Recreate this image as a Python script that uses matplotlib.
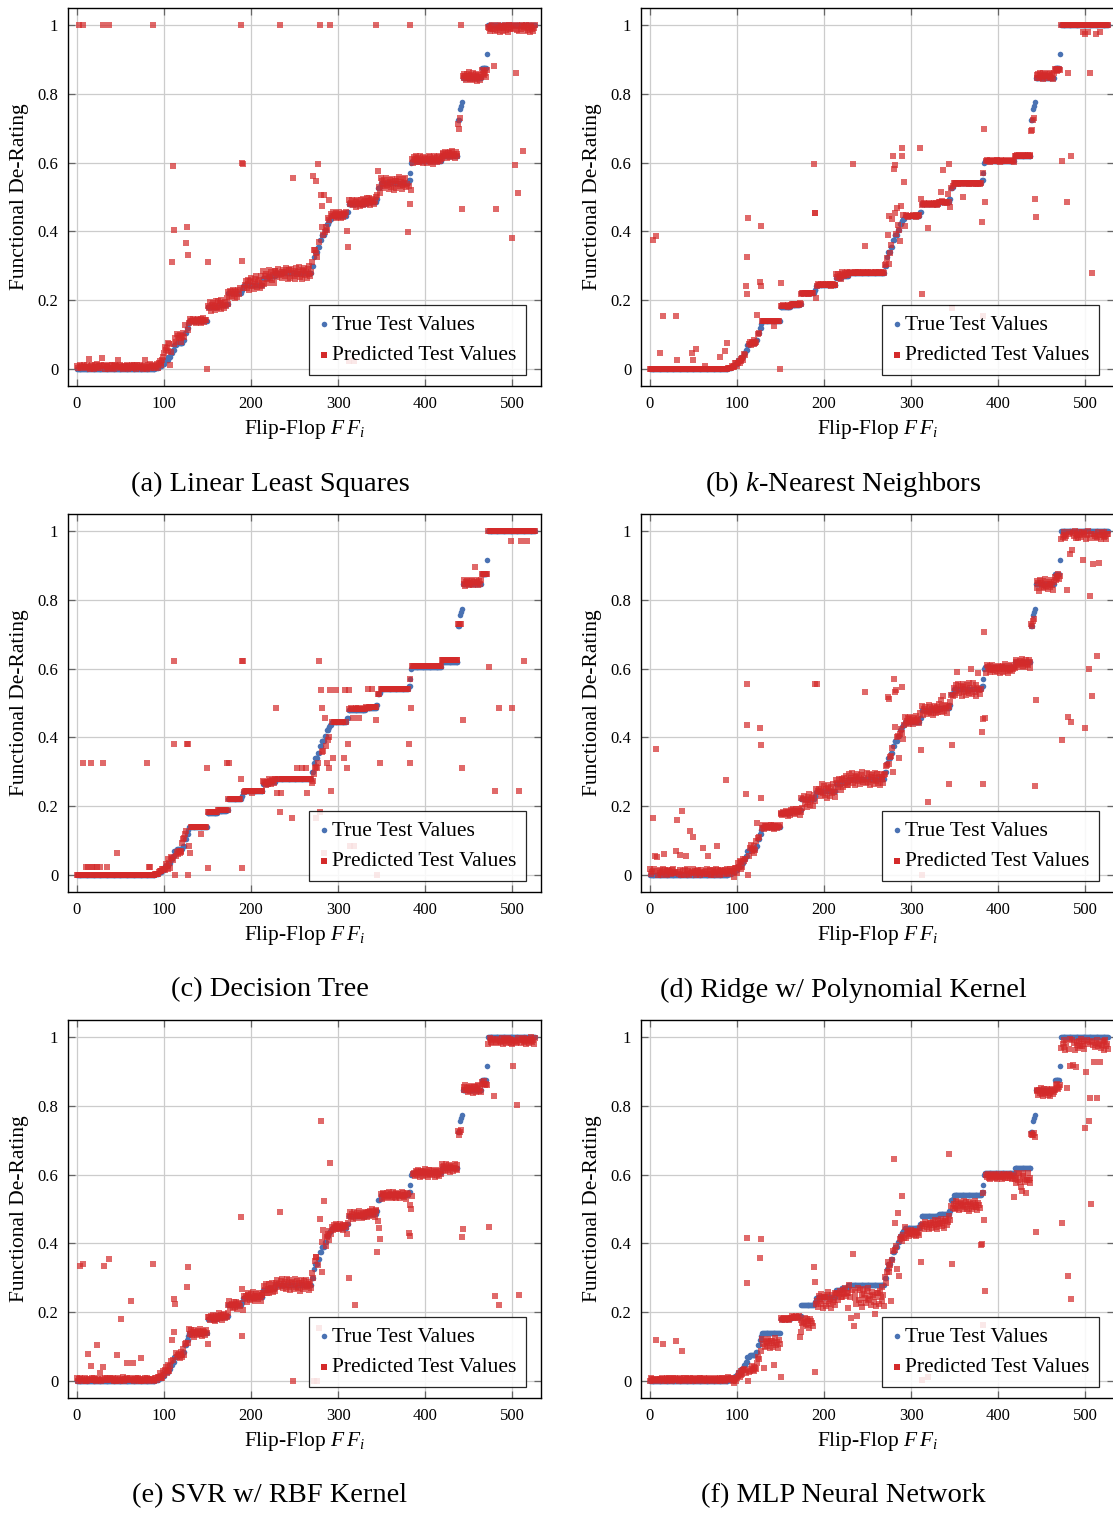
import numpy as np
import matplotlib
matplotlib.use("Agg")
import matplotlib.pyplot as plt

plt.rcParams['font.family'] = ['Liberation Serif', 'DejaVu Serif']
plt.rcParams['mathtext.fontset'] = 'custom'
plt.rcParams['mathtext.rm'] = 'Liberation Serif'
plt.rcParams['mathtext.it'] = 'Liberation Serif:italic'

# true de-rating curve, run-length encoded (level, how many flip-flops)
TRUE_LEVELS = [0.0, 0.003, 0.008, 0.015, 0.025, 0.035, 0.045, 0.055, 0.068, 0.075,
               0.085, 0.105, 0.118, 0.13, 0.14, 0.18, 0.185, 0.19, 0.22, 0.23,
               0.24, 0.245, 0.265, 0.27, 0.28, 0.30, 0.325, 0.34, 0.355, 0.375,
               0.39, 0.405, 0.42, 0.43, 0.435, 0.445, 0.455, 0.48, 0.485, 0.495,
               0.525, 0.53, 0.54, 0.55, 0.57, 0.60, 0.605, 0.62, 0.725, 0.755,
               0.765, 0.775, 0.845, 0.875, 0.915, 1.0]
TRUE_COUNTS = [90, 4, 4, 3, 4, 3, 2, 2, 3, 7,
               2, 2, 2, 1, 21, 12, 10, 2, 15, 2,
               2, 21, 6, 8, 42, 2, 1, 4, 2, 2,
               4, 2, 2, 2, 2, 17, 2, 20, 12, 2,
               2, 1, 32, 2, 1, 1, 34, 19, 2, 1,
               1, 1, 22, 6, 1, 55]

# hand-read scatter of the predictions around the true curve
JITTER = [0.31, -0.72, 0.55, -0.08, 0.93, -0.46, 0.17, -0.88, 0.64, -0.27, 0.02, 0.79,
          -0.61, -0.14, 0.42, -0.97, 0.26, 0.71, -0.39, 0.08, -0.83, 0.58, -0.21, 0.97,
          -0.53, 0.12, 0.36, -0.68, 0.85, -0.03, -0.44, 0.67, -0.91, 0.23, 0.49, -0.16,
          -0.76, 0.04, 0.88, -0.33, 0.61, -0.58, 0.19, -0.99, 0.74, 0.29, -0.11, -0.65,
          0.51, -0.37, 0.82, -0.24, 0.06, -0.81, 0.45, 0.14, -0.49, 0.69, -0.06, -0.93, 0.38]

# (a) Linear Least Squares
A_ENDS = [95, 100, 107, 112, 118, 126, 129, 150, 175, 195, 215, 270, 293, 312, 346, 385, 438, 443, 465, 472, 527]
A_BIAS = [0.006, 0.01, 0.035, 0.01, 0.02, 0.015, 0.0, 0.0, 0.003, 0.0, 0.005, 0.0, 0.005, 0.003, 0.003, 0.0, 0.004, -0.02, 0.005, -0.015, -0.008]
A_SPREAD = [0.007, 0.01, 0.008, 0.01, 0.012, 0.012, 0.01, 0.008, 0.015, 0.015, 0.022, 0.02, 0.02, 0.01, 0.012, 0.02, 0.012, 0.01, 0.013, 0.01, 0.012]
A_OUT_X = [2, 7, 30, 37, 87, 188, 233, 279, 291, 344, 383, 441,
           110, 189, 112, 126, 125, 128, 109, 150, 190, 149, 107,
           248, 271, 275, 277, 280, 281, 284, 289, 310, 311,
           380, 382, 384, 442, 479, 504, 512, 503, 507, 500, 481, 346, 312, 318,
           14, 29, 47, 78, 191, 440, 471]
A_OUT_Y = [1.0, 1.0, 1.0, 1.0, 1.0, 1.0, 1.0, 1.0, 1.0, 1.0, 1.0, 1.0,
           0.59, 0.6, 0.405, 0.413, 0.367, 0.33, 0.31, 0.31, 0.315, 0.0, 0.01,
           0.554, 0.56, 0.547, 0.595, 0.505, 0.473, 0.505, 0.49, 0.40, 0.354,
           0.399, 0.481, 0.52, 0.464, 0.88, 0.86, 0.633, 0.593, 0.512, 0.38, 0.464, 0.575, 0.022, 0.022,
           0.03, 0.032, 0.025, 0.025, 0.595, 0.73, 0.87]

# (b) k-Nearest Neighbors
B_ENDS = [95, 100, 110, 124, 129, 150, 172, 192, 214, 228, 270, 279, 293, 312, 346, 385, 438, 443, 465, 472, 527]
B_BIAS = [0.0, 0.0, -0.005, 0.0, 0.0, 0.0, 0.003, 0.0, 0.0, 0.005, 0.0, 0.0, 0.005, 0.0, 0.0, 0.0, 0.0, -0.03, 0.008, -0.005, 0.0]
B_SPREAD = [0.0, 0.003, 0.005, 0.008, 0.01, 0.0, 0.002, 0.002, 0.003, 0.008, 0.001, 0.01, 0.015, 0.002, 0.003, 0.002, 0.002, 0.005, 0.01, 0.004, 0.0]
B_OUT_X = [4, 7, 15, 30, 12, 31, 48, 53, 50, 63, 80, 86, 88,
           113, 112, 110, 111, 127, 126, 128, 150, 149, 143, 123,
           188, 189, 190, 191, 233, 247,
           273, 275, 274, 278, 279, 281, 280, 282, 284, 288, 290, 289, 292, 293, 287, 286,
           310, 311, 312, 319, 334, 337, 342, 344, 345, 360, 347,
           381, 384, 385, 382, 442, 443, 473, 479, 484, 480, 505, 508,
           497, 500, 503, 512, 517, 440, 441, 471]
B_OUT_Y = [0.376, 0.386, 0.153, 0.153, 0.045, 0.027, 0.045, 0.058, 0.025, 0.008, 0.034, 0.053, 0.076,
           0.438, 0.324, 0.24, 0.219, 0.415, 0.254, 0.242, 0.25, 0.0, 0.126, 0.157,
           0.595, 0.452, 0.452, 0.207, 0.595, 0.357,
           0.39, 0.306, 0.446, 0.435, 0.62, 0.592, 0.582, 0.452, 0.468, 0.473, 0.643, 0.619, 0.544, 0.417, 0.373, 0.405,
           0.643, 0.493, 0.218, 0.41, 0.514, 0.579, 0.51, 0.595, 0.471, 0.5, 0.177,
           0.427, 0.698, 0.485, 0.153, 0.495, 0.441, 0.606, 0.485, 0.619, 0.861, 0.861, 0.279,
           0.98, 0.975, 0.98, 0.975, 0.98, 0.725, 0.73, 0.87]

# (c) Decision Tree
C_ENDS = [95, 100, 112, 121, 129, 150, 172, 190, 214, 228, 270, 282, 293, 312, 346, 385, 440, 443, 465, 472, 527]
C_BIAS = [0.0, 0.003, 0.0, -0.01, 0.02, 0.0, 0.004, 0.0, 0.0, 0.002, 0.0, -0.03, -0.03, 0.0, 0.003, 0.0, 0.004, -0.03, 0.005, 0.0, 0.0]
C_SPREAD = [0.0, 0.0, 0.015, 0.005, 0.005, 0.0, 0.0, 0.0, 0.0, 0.008, 0.0, 0.005, 0.005, 0.0, 0.002, 0.0, 0.0, 0.0, 0.01, 0.0, 0.0]
C_OUT_X = [7, 16, 30, 80, 10, 13, 17, 20, 23, 26, 34, 83, 84, 46,
           111, 112, 126, 128, 149, 150, 143, 113, 127, 130, 129,
           172, 175, 188, 189, 191, 190, 201, 229, 233, 230, 234, 247,
           253, 258, 263, 264, 274, 278, 280, 281, 285, 279,
           287, 290, 292, 291, 298, 294, 307, 310, 311, 308, 313, 317, 324,
           314, 318, 284, 345, 334, 339, 344, 348,
           381, 382, 384, 442, 443, 473, 480, 485, 500, 508, 514, 499, 510, 517, 457, 440, 441, 471]
C_OUT_Y = [0.325, 0.325, 0.325, 0.325, 0.022, 0.022, 0.022, 0.022, 0.022, 0.022, 0.022, 0.022, 0.022, 0.063,
           0.621, 0.38, 0.38, 0.38, 0.31, 0.021, 0.118, 0.0, 0.0, 0.063, 0.085,
           0.325, 0.325, 0.28, 0.621, 0.621, 0.021, 0.237, 0.485, 0.184, 0.237, 0.237, 0.165,
           0.31, 0.31, 0.31, 0.237, 0.165, 0.621, 0.539, 0.485, 0.456, 0.184,
           0.325, 0.31, 0.245, 0.539, 0.539, 0.34, 0.34, 0.31, 0.38, 0.539, 0.539, 0.456, 0.456,
           0.085, 0.085, 0.063, 0.0, 0.54, 0.54, 0.45, 0.325,
           0.38, 0.325, 0.485, 0.31, 0.45, 0.604, 0.245, 0.485, 0.485, 0.245, 0.621, 0.97, 0.97, 0.97, 0.897,
           0.73, 0.73, 0.875]

# (d) Ridge w/ Polynomial Kernel
D_ENDS = [95, 112, 129, 150, 172, 195, 215, 270, 293, 312, 346, 385, 438, 443, 465, 472, 527]
D_BIAS = [0.008, 0.0, 0.0, 0.0, 0.0, -0.005, 0.0, 0.0, 0.0, 0.005, 0.0, 0.0, -0.005, 0.0, 0.0, -0.01, -0.012]
D_SPREAD = [0.01, 0.015, 0.015, 0.006, 0.008, 0.02, 0.022, 0.02, 0.02, 0.012, 0.015, 0.02, 0.013, 0.01, 0.018, 0.01, 0.013]
D_OUT_X = [4, 7, 6, 8, 16, 31, 37, 30, 35, 41, 46, 50, 61, 67, 77, 87,
           111, 112, 126, 127, 128, 110, 113, 123, 189, 192, 247,
           273, 275, 280, 282, 283, 290, 279, 286, 291, 281,
           311, 319, 312, 347, 344, 337, 334,
           353, 369, 377, 381, 382, 385, 384, 383, 443, 442,
           473, 480, 484, 479, 500, 505, 508, 504, 513, 497, 509, 516, 483, 485, 440, 441, 471]
D_OUT_Y = [0.164, 0.365, 0.055, 0.052, 0.06, 0.159, 0.185, 0.068, 0.057, 0.055, 0.128, 0.109, 0.078, 0.055, 0.084, 0.275,
           0.556, 0.436, 0.428, 0.377, 0.225, 0.234, 0.0, 0.152, 0.556, 0.556, 0.532,
           0.517, 0.512, 0.569, 0.532, 0.538, 0.547, 0.30, 0.341, 0.394, 0.43,
           0.363, 0.213, 0.0, 0.377, 0.263, 0.52, 0.51,
           0.59, 0.6, 0.588, 0.416, 0.452, 0.455, 0.707, 0.265, 0.508, 0.259,
           0.393, 0.46, 0.446, 0.828, 0.428, 0.811, 0.52, 0.598, 0.637, 0.916, 0.905, 0.906, 0.935, 0.945,
           0.74, 0.745, 0.87]

# (e) SVR w/ RBF Kernel
E_ENDS = [95, 112, 129, 150, 175, 195, 215, 270, 293, 312, 346, 385, 438, 443, 465, 472, 527]
E_BIAS = [0.004, 0.005, 0.0, 0.0, 0.003, 0.0, 0.0, 0.0, 0.0, 0.003, 0.003, 0.0, 0.0, 0.0, 0.005, -0.01, -0.01]
E_SPREAD = [0.006, 0.012, 0.012, 0.012, 0.01, 0.012, 0.015, 0.018, 0.02, 0.01, 0.012, 0.01, 0.012, 0.01, 0.012, 0.008, 0.01]
E_OUT_X = [4, 7, 13, 16, 23, 26, 31, 30, 37, 46, 51, 57, 62, 64, 74, 87,
           111, 113, 109, 112, 126, 128, 150, 188, 189, 191, 190,
           233, 248, 272, 276, 278, 280, 291, 284, 279, 283, 274, 277, 281, 275,
           310, 312, 319, 345, 346, 347, 348, 381, 383, 382, 384, 385, 442, 443,
           473, 479, 480, 485, 501, 505, 508, 440, 441, 471]
E_OUT_Y = [0.333, 0.34, 0.078, 0.042, 0.105, 0.024, 0.333, 0.039, 0.355, 0.076, 0.18, 0.051, 0.233, 0.053, 0.066, 0.34,
           0.239, 0.224, 0.119, 0.141, 0.273, 0.33, 0.108, 0.476, 0.268, 0.207, 0.129,
           0.492, 0.0, 0.0, 0.0, 0.153, 0.755, 0.635, 0.524, 0.471, 0.438, 0.36, 0.336, 0.318, 0.36,
           0.427, 0.299, 0.221, 0.374, 0.466, 0.444, 0.412, 0.43, 0.422, 0.512, 0.5, 0.538, 0.418, 0.441,
           0.449, 0.83, 0.247, 0.221, 0.917, 0.803, 0.25, 0.725, 0.73, 0.86]

# (f) MLP Neural Network
F_ENDS = [95, 110, 125, 129, 150, 172, 190, 215, 230, 270, 295, 312, 346, 385, 418, 438, 443, 465, 472, 527]
F_BIAS = [0.004, -0.01, -0.04, -0.04, -0.03, 0.0, -0.05, -0.01, -0.015, -0.035, -0.01, -0.015, -0.025, -0.03, -0.01, -0.03, -0.01, -0.005, -0.02, -0.02]
F_SPREAD = [0.005, 0.008, 0.01, 0.01, 0.015, 0.004, 0.015, 0.025, 0.015, 0.03, 0.02, 0.01, 0.015, 0.015, 0.008, 0.018, 0.01, 0.013, 0.01, 0.018]
F_OUT_X = [7, 15, 30, 37, 111, 112, 127, 126, 150, 113, 142, 131, 188, 189, 190,
           227, 231, 234, 233, 238, 258, 280, 285, 282, 290, 277, 286, 284,
           311, 312, 319, 343, 347, 381, 380, 385, 384, 382, 418, 427, 432, 426, 443,
           473, 480, 484, 500, 504, 507, 505, 513, 510, 517, 501, 479, 482, 486, 489,
           440, 441, 442, 471]
F_OUT_Y = [0.119, 0.108, 0.116, 0.087, 0.286, 0.417, 0.413, 0.357, 0.011, 0.0, 0.045, 0.037, 0.33, 0.287, 0.027,
           0.213, 0.184, 0.16, 0.369, 0.19, 0.194, 0.645, 0.488, 0.46, 0.538, 0.231, 0.306, 0.325,
           0.347, 0.003, 0.01, 0.659, 0.34, 0.399, 0.394, 0.262, 0.468, 0.163, 0.536, 0.551, 0.546, 0.565, 0.433,
           0.46, 0.306, 0.239, 0.735, 0.755, 0.514, 0.822, 0.824, 0.929, 0.929, 0.898, 0.853, 0.915, 0.92, 0.912,
           0.715, 0.72, 0.71, 0.86]

CAPTIONS = ['(a) Linear Least Squares', '(b) $k$-Nearest Neighbors', '(c) Decision Tree',
            '(d) Ridge w/ Polynomial Kernel', '(e) SVR w/ RBF Kernel', '(f) MLP Neural Network']

PANELS = [
    (A_ENDS, A_BIAS, A_SPREAD, A_OUT_X, A_OUT_Y, 0),
    (B_ENDS, B_BIAS, B_SPREAD, B_OUT_X, B_OUT_Y, 7),
    (C_ENDS, C_BIAS, C_SPREAD, C_OUT_X, C_OUT_Y, 13),
    (D_ENDS, D_BIAS, D_SPREAD, D_OUT_X, D_OUT_Y, 23),
    (E_ENDS, E_BIAS, E_SPREAD, E_OUT_X, E_OUT_Y, 31),
    (F_ENDS, F_BIAS, F_SPREAD, F_OUT_X, F_OUT_Y, 43),
]


def predicted(true, ends, bias, spread, out_x, out_y, shift):
    pred = true.copy()
    start = 0
    for end, b, s in zip(ends, bias, spread):
        for i in range(start, end):
            pred[i] = true[i] + b + s * JITTER[(i + shift) % len(JITTER)]
        start = end
    pred = np.minimum(pred, 1.0)
    pred[out_x] = out_y
    return pred


true_vals = np.repeat(TRUE_LEVELS, TRUE_COUNTS)
ff = np.arange(len(true_vals))

W, H = 1113, 1513
fig = plt.figure(figsize=(W / 100, H / 100), dpi=100)

col_left = [68, 641]
row_top = [8, 514, 1020]
ax_w, ax_h = 473, 378
cap_x = [270, 843]
cap_y = [484, 990, 1496]

for k, (ends, bias, spread, ox, oy, shift) in enumerate(PANELS):
    r, c = divmod(k, 2)
    ax = fig.add_axes([col_left[c] / W, 1 - (row_top[r] + ax_h) / H, ax_w / W, ax_h / H])
    pred = predicted(true_vals, ends, bias, spread, ox, oy, shift)

    ax.scatter(ff, true_vals, s=16, marker='o', color='#4a72b3', linewidths=0,
               zorder=3, label='True Test Values')
    ax.scatter(ff, pred, s=17, marker='s', color='#d42a2a', alpha=0.7, linewidths=0,
               zorder=4, label='Predicted Test Values')

    ax.set_xlim(-10.3, 533)
    ax.set_ylim(-0.05, 1.05)
    ax.set_xticks([0, 100, 200, 300, 400, 500])
    ax.set_yticks([0, 0.2, 0.4, 0.6, 0.8, 1.0])
    ax.set_yticklabels(['0', '0.2', '0.4', '0.6', '0.8', '1'])
    ax.grid(True, color='#cccccc', linewidth=0.9)
    ax.set_axisbelow(True)
    ax.tick_params(direction='in', top=True, right=True, length=5, width=0.9,
                   color='#666666', labelsize=12, pad=7)
    for sp in ax.spines.values():
        sp.set_linewidth(1.0)

    ax.set_xlabel('Flip-Flop $F\\,F_i$', fontsize=15.5)
    ax.set_ylabel('Functional De-Rating', fontsize=15.5)
    ax.xaxis.set_label_coords(0.5, -0.085)
    ax.yaxis.set_label_coords(-0.082, 0.5)

    leg = ax.legend(loc='lower right', bbox_to_anchor=(0.968, 0.029), fontsize=15.5,
                    frameon=True, fancybox=False, edgecolor='black', framealpha=0.85,
                    handlelength=0.5, handletextpad=0.1, borderpad=0.45,
                    labelspacing=0.5, borderaxespad=0.0)
    leg.get_frame().set_linewidth(0.9)
    for h in leg.legend_handles:
        h.set_alpha(1.0)

    fig.text(cap_x[c] / W, 1 - cap_y[r] / H, CAPTIONS[k], ha='center', va='center',
             fontsize=20.5)

fig.savefig('out.png', dpi=100)
